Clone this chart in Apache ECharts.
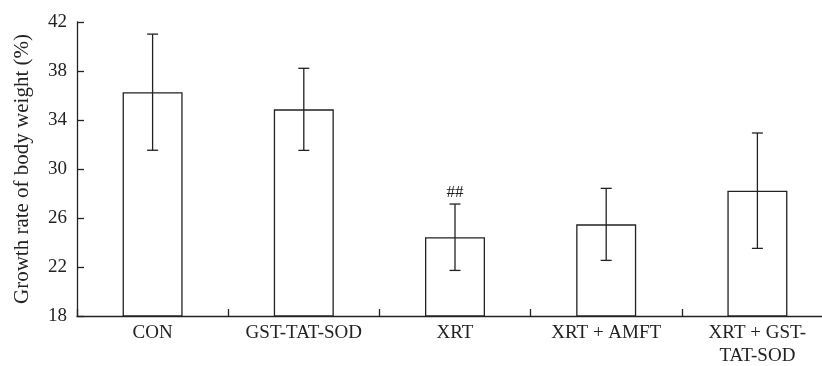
<!DOCTYPE html>
<html>
<head>
<meta charset="utf-8">
<script src="https://cdn.jsdelivr.net/npm/echarts@6/dist/echarts.min.js"></script>
<style>
  html, body { margin: 0; padding: 0; background: #fff; }
  #chart { width: 822px; height: 366px; }
</style>
</head>
<body>
<div id="chart"></div>
<script>
// group names, means and error (± SD)
var categories = ['CON', 'GST-TAT-SOD', 'XRT', 'XRT + AMFT', 'XRT + GST-TAT-SOD'];
var means = [36.27, 34.87, 24.43, 25.48, 28.23];
var errors = [4.74, 3.35, 2.71, 2.94, 4.71];
var marks = ['', '', '##', '', ''];
var yTicks = [18, 22, 26, 30, 34, 38, 42];

var font = 'Liberation Serif';
var chart = echarts.init(document.getElementById('chart'));

var errorData = means.map(function (m, i) {
  return [i, m - errors[i], m + errors[i]];
});

chart.setOption({
  animation: false,
  // the original axis runs past the right edge of the picture
  grid: {left: 77, width: 756, top: 22, bottom: 50, outerBoundsMode: 'none', containLabel: false},
  xAxis: {
    type: 'category',
    data: categories,
    axisLine: {lineStyle: {color: '#222', width: 1.3}},
    axisTick: {show: true, inside: true, length: 7, lineStyle: {color: '#222', width: 1.3}},
    axisLabel: {
      interval: 0,
      hideOverlap: false,
      color: '#222',
      fontFamily: font,
      fontSize: 19,
      margin: 6,
      lineHeight: 23,
      formatter: function (v) {
        return v.indexOf('XRT + GST-') === 0 ? v.replace('GST-', 'GST-\n') : v;
      }
    }
  },
  yAxis: {
    type: 'value',
    min: yTicks[0],
    max: yTicks[yTicks.length - 1],
    interval: 4,
    name: 'Growth rate of body weight (%)',
    nameLocation: 'middle',
    nameGap: 44,
    nameTextStyle: {color: '#222', fontFamily: font, fontSize: 21},
    axisLine: {show: true, lineStyle: {color: '#222', width: 1.3}},
    axisTick: {show: true, inside: true, length: 7, lineStyle: {color: '#222', width: 1.3}},
    axisLabel: {color: '#222', fontFamily: font, fontSize: 19, margin: 10},
    splitLine: {show: false}
  },
  series: [
    {
      type: 'bar',
      data: means,
      barWidth: 60,
      itemStyle: {color: '#fff', borderColor: '#222', borderWidth: 1.3}
    },
    {
      type: 'custom',
      data: errorData,
      encode: {x: 0, y: [1, 2]},
      z: 5,
      renderItem: function (params, api) {
        var lo = api.coord([api.value(0), api.value(1)]);
        var hi = api.coord([api.value(0), api.value(2)]);
        var cap = 5.5;
        var style = {stroke: '#222', lineWidth: 1.3};
        var kids = [
          {type: 'line', shape: {x1: lo[0], y1: lo[1], x2: hi[0], y2: hi[1]}, style: style},
          {type: 'line', shape: {x1: lo[0] - cap, y1: lo[1], x2: lo[0] + cap, y2: lo[1]}, style: style},
          {type: 'line', shape: {x1: hi[0] - cap, y1: hi[1], x2: hi[0] + cap, y2: hi[1]}, style: style}
        ];
        var mark = marks[params.dataIndex];
        if (mark) {
          kids.push({
            type: 'text',
            style: {
              text: mark, x: hi[0], y: hi[1] - 3,
              align: 'center', verticalAlign: 'bottom',
              fontFamily: font, fontSize: 17, fill: '#222'
            }
          });
        }
        return {type: 'group', children: kids};
      }
    }
  ]
});
</script>
</body>
</html>
